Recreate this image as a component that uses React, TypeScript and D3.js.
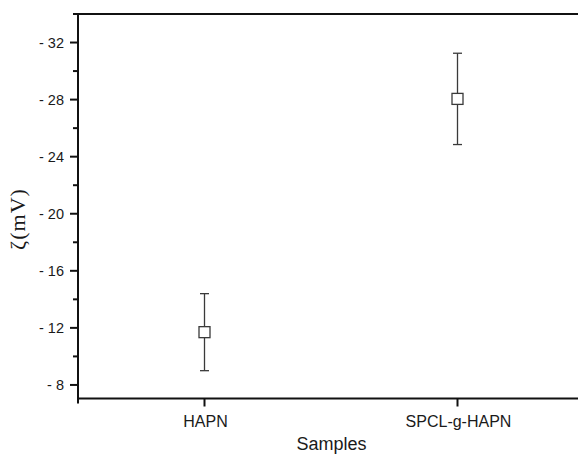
import React from "react";
import * as d3 from "d3";

const categories = ["HAPN", "SPCL-g-HAPN"];
const categoryPositions = [1, 2];
const means = [-11.7, -28.05];
const errors = [2.7, 3.2];
const yTicks = [-8, -12, -16, -20, -24, -28, -32];
const yMinorTicks = [-10, -14, -18, -22, -26, -30, -34];

const W = 578;
const H = 455;

export default function App() {
  const x = d3.scaleLinear().domain([0.5, 2.5]).range([78, 584]);
  const y = d3.scaleLinear().domain([-7.05, -34]).range([398.5, 14]);
  const left = x(0.5);
  const bottom = y(-7.05);
  const top = y(-34);
  const font = "Arial, 'Liberation Sans', sans-serif";
  const fmt = (v: number) => "- " + Math.abs(v);

  return (
    <div style={{ position: "absolute", left: 0, top: 0 }}>
      <svg width={W} height={H} style={{ display: "block", background: "#fff" }}>
        {means.map((m, i) => {
          const cx = x(categoryPositions[i]);
          const yHi = y(m - errors[i]);
          const yLo = y(m + errors[i]);
          const cy = y(m);
          return (
            <g key={i} stroke="#3a3a3a" strokeWidth={1.3} fill="none">
              <line x1={cx} x2={cx} y1={yHi} y2={yLo} />
              <line x1={cx - 4.5} x2={cx + 4.5} y1={yHi} y2={yHi} />
              <line x1={cx - 4.5} x2={cx + 4.5} y1={yLo} y2={yLo} />
              <rect x={cx - 5.5} y={cy - 5.5} width={11} height={11} fill="#fff" />
            </g>
          );
        })}
        <g stroke="#111" strokeWidth={2}>
          <line x1={left} x2={left} y1={top} y2={bottom + 5} />
          <line x1={left - 1} x2={W} y1={bottom} y2={bottom} />
          <line x1={left - 1} x2={W} y1={top} y2={top} />
        </g>
        {yTicks.map((t) => (
          <g key={t}>
            <line x1={left - 8} x2={left} y1={y(t)} y2={y(t)} stroke="#111" strokeWidth={2} />
            <text x={left - 14} y={y(t)} dy="0.36em" textAnchor="end" fontFamily={font} fontSize={14.5} fill="#1a1a1a">
              {fmt(t)}
            </text>
          </g>
        ))}
        {yMinorTicks.map((t) => (
          <line key={t} x1={left - 5} x2={left} y1={y(t)} y2={y(t)} stroke="#111" strokeWidth={2} />
        ))}
        {categories.map((c, i) => (
          <g key={c}>
            <line x1={x(categoryPositions[i])} x2={x(categoryPositions[i])} y1={bottom} y2={bottom + 8} stroke="#111" strokeWidth={2} />
            <text x={x(categoryPositions[i]) + 1} y={426.5} textAnchor="middle" fontFamily={font} fontSize={16} fill="#1a1a1a">
              {c}
            </text>
          </g>
        ))}
        <text x={331.5} y={450} textAnchor="middle" fontFamily={font} fontSize={18} fill="#1a1a1a">
          Samples
        </text>
        <text
          transform={`translate(25, ${219}) rotate(-90)`}
          textAnchor="middle"
          fontFamily="'Liberation Serif', 'DejaVu Serif', serif"
          fontSize={22}
          letterSpacing={1}
          fill="#1a1a1a"
        >
          ζ(mV)
        </text>
      </svg>
    </div>
  );
}
